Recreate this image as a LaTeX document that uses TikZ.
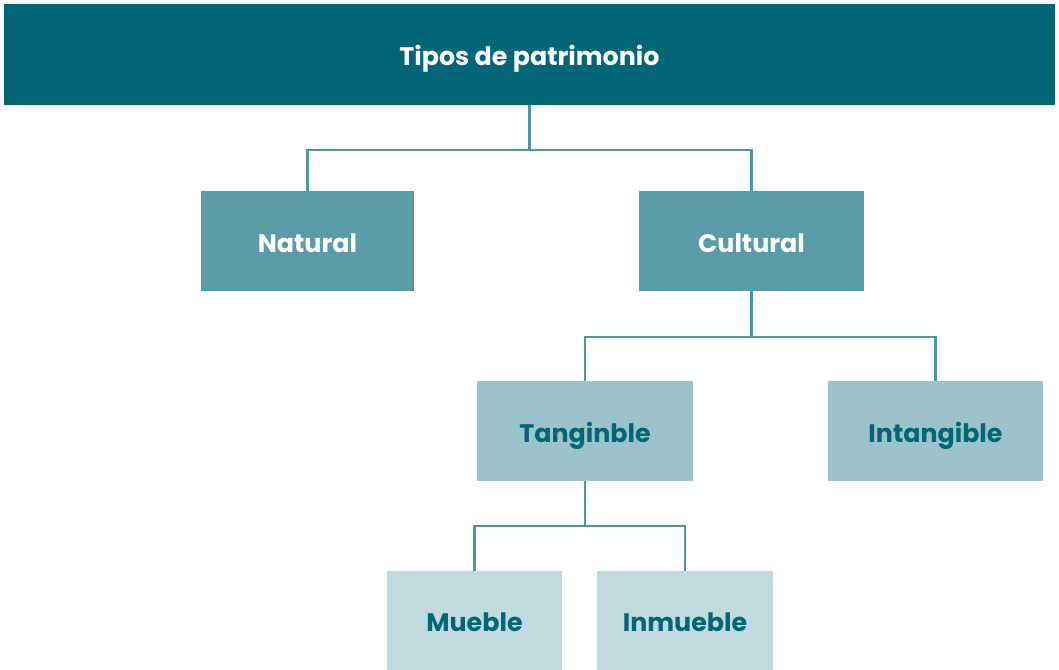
\documentclass[tikz,border=0pt]{standalone}
\usepackage{fontspec}
\setmainfont{Poppins}
\definecolor{darkteal}{HTML}{016675}
\definecolor{midteal}{HTML}{5A9BA9}
\definecolor{lightteal}{HTML}{9CC3CC}
\definecolor{paleteal}{HTML}{C1DADF}
\definecolor{linkteal}{HTML}{4E97A3}
\tikzset{
    box/.style={inner sep=0pt, text height=17pt, text depth=0pt, font=\fontsize{19}{22}\selectfont\bfseries},
    level0/.style={box, fill=darkteal, text=white},
    level1/.style={box, fill=midteal, text=white},
    level2/.style={box, fill=lightteal, text=darkteal},
    level3/.style={box, fill=paleteal, text=darkteal},
    link/.style={draw=linkteal, line width=1.8pt}
}
\begin{document}
\begin{tikzpicture}[x=0.75pt, y=-0.75pt]
        \useasboundingbox (0, 0) rectangle (1059, 670);
        \node[level0, minimum width=788.25pt, minimum height=75.75pt] (tipos) at (529.5, 54.5) {Tipos de patrimonio};
        \node[level1, minimum width=159.75pt, minimum height=75pt] (natural) at (307.5, 241) {Natural};
        \node[level1, minimum width=168.75pt, minimum height=75pt] (cultural) at (751.5, 241) {Cultural};
        \node[level2, minimum width=162pt, minimum height=75pt] (tanginble) at (585, 431) {Tanginble};
        \node[level2, minimum width=161.25pt, minimum height=75pt] (intangible) at (935.5, 431) {Intangible};
        \node[level3, minimum width=131.25pt, minimum height=74.25pt] (mueble) at (474.5, 620.5) {Mueble};
        \node[level3, minimum width=132pt, minimum height=74.25pt] (inmueble) at (685, 620.5) {Inmueble};
        \coordinate (j1) at (529.5, 150);
        \coordinate (j2) at (751.5, 337);
        \coordinate (j3) at (585, 526);
        \draw[link] (tipos.south) -- (j1);
        \draw[link] (natural.north) |- (j1) -| (cultural.north);
        \draw[link] (cultural.south) -- (j2);
        \draw[link] (tanginble.north) |- (j2) -| (intangible.north);
        \draw[link] (tanginble.south) -- (j3);
        \draw[link] (mueble.north) |- (j3) -| (inmueble.north);
    \end{tikzpicture}
\end{document}
